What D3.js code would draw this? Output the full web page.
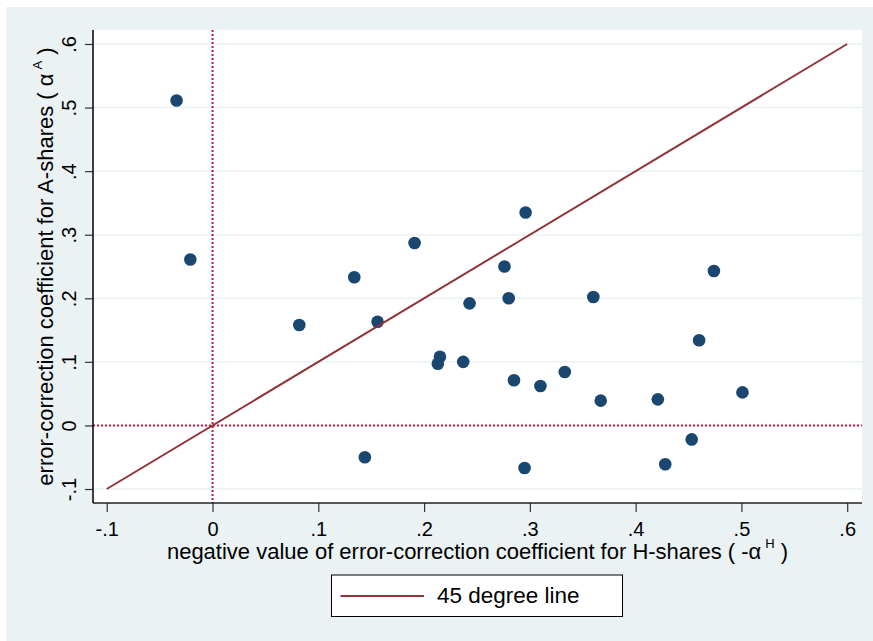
<!DOCTYPE html>
<html>
<head>
<meta charset="utf-8">
<script src="https://cdn.jsdelivr.net/npm/d3@7"></script>
<style>
  body { margin: 0; background: #fff; }
  svg { font-family: "Liberation Sans", Arial, sans-serif; }
</style>
</head>
<body>
<div id="chart"></div>
<script>
// frame
const FRAME_WIDTH = 873;
const FRAME_HEIGHT = 641;
const PLOT = {left: 93, right: 862, top: 30, bottom: 503};

// data: one point per firm pair
const NEG_ALPHA_H = [-0.034, -0.021, 0.134, 0.082, 0.156, 0.243, 0.215, 0.213, 0.237, 0.144,
                     0.191, 0.296, 0.276, 0.280, 0.360, 0.474, 0.460, 0.285, 0.310, 0.333,
                     0.367, 0.421, 0.501, 0.453, 0.428, 0.295];
const ALPHA_A = [0.511, 0.261, 0.233, 0.158, 0.163, 0.192, 0.108, 0.097, 0.100, -0.050,
                 0.287, 0.335, 0.250, 0.200, 0.202, 0.243, 0.134, 0.071, 0.062, 0.084,
                 0.039, 0.041, 0.052, -0.022, -0.061, -0.067];
const X_TICKS = [-0.1, 0, 0.1, 0.2, 0.3, 0.4, 0.5, 0.6];
const Y_TICKS = [-0.1, 0, 0.1, 0.2, 0.3, 0.4, 0.5, 0.6];
const LINE_45 = [-0.1, 0.6];
const LEGEND_LABEL = "45 degree line";

const FRAME = d3.select("#chart")
                .append("svg")
                  .attr("width", FRAME_WIDTH)
                  .attr("height", FRAME_HEIGHT);

// background
FRAME.append("rect")
       .attr("x", 6).attr("y", 7)
       .attr("width", FRAME_WIDTH - 6).attr("height", FRAME_HEIGHT - 7)
       .attr("fill", "#eaf2f3");

FRAME.append("rect")
       .attr("x", PLOT.left).attr("y", PLOT.top)
       .attr("width", PLOT.right - PLOT.left).attr("height", PLOT.bottom - PLOT.top)
       .attr("fill", "#fff");

// scales
const X_SCALE = d3.scaleLinear().domain([-0.113, 0.614]).range([PLOT.left, PLOT.right]);
const Y_SCALE = d3.scaleLinear().domain([-0.122, 0.622]).range([PLOT.bottom, PLOT.top]);

// stata-ish labels: .1 instead of 0.1, plain hyphen for minus
const fmt = (v) => {
  if (Math.abs(v) < 1e-9) return "0";
  const s = Math.abs(v).toFixed(1).replace(/^0\./, ".");
  return (v < 0 ? "-" : "") + s;
};

// gridlines
FRAME.append("g")
       .selectAll("line")
       .data(Y_TICKS)
       .enter()
       .append("line")
         .attr("x1", PLOT.left).attr("x2", PLOT.right)
         .attr("y1", (d) => Y_SCALE(d)).attr("y2", (d) => Y_SCALE(d))
         .attr("stroke", "#eaf2f3")
         .attr("stroke-width", 1.5);

// reference lines at zero
FRAME.append("line")
       .attr("x1", X_SCALE(0)).attr("x2", X_SCALE(0))
       .attr("y1", PLOT.top).attr("y2", PLOT.bottom)
       .attr("stroke", "#d3103d").attr("stroke-width", 2)
       .attr("stroke-dasharray", "2,2");
FRAME.append("line")
       .attr("x1", PLOT.left).attr("x2", PLOT.right)
       .attr("y1", Y_SCALE(0)).attr("y2", Y_SCALE(0))
       .attr("stroke", "#d3103d").attr("stroke-width", 2)
       .attr("stroke-dasharray", "2,2");

// points
FRAME.append("g")
       .selectAll("circle")
       .data(NEG_ALPHA_H)
       .enter()
       .append("circle")
         .attr("cx", (d) => X_SCALE(d))
         .attr("cy", (d, i) => Y_SCALE(ALPHA_A[i]))
         .attr("r", 6.3)
         .attr("fill", "#1a476f");

// 45 degree line
FRAME.append("line")
       .attr("x1", X_SCALE(LINE_45[0])).attr("y1", Y_SCALE(LINE_45[0]))
       .attr("x2", X_SCALE(LINE_45[1])).attr("y2", Y_SCALE(LINE_45[1]))
       .attr("stroke", "#93343b").attr("stroke-width", 2);

// x-axis
const xAxis = FRAME.append("g")
                     .attr("transform", "translate(0," + PLOT.bottom + ")")
                     .call(d3.axisBottom(X_SCALE).tickValues(X_TICKS).tickFormat(fmt).tickSize(9).tickSizeOuter(0));
xAxis.select(".domain").remove();
xAxis.selectAll(".tick line").attr("stroke", "#333").attr("stroke-width", 1.2);
xAxis.selectAll(".tick text")
       .attr("y", 33).attr("dy", 0)
       .attr("font-size", "20px").attr("fill", "#000")
       .attr("font-family", "Liberation Sans, Arial, sans-serif");

// y-axis
const yAxis = FRAME.append("g")
                     .attr("transform", "translate(" + PLOT.left + ",0)")
                     .call(d3.axisLeft(Y_SCALE).tickValues(Y_TICKS).tickFormat(fmt).tickSize(8).tickSizeOuter(0));
yAxis.select(".domain").remove();
yAxis.selectAll(".tick line").attr("stroke", "#333").attr("stroke-width", 1.2);
yAxis.selectAll(".tick text")
       .attr("x", 0).attr("y", -17).attr("dy", 0)
       .attr("transform", "rotate(-90)")
       .attr("text-anchor", "middle")
       .attr("font-size", "20px").attr("fill", "#000")
       .attr("font-family", "Liberation Sans, Arial, sans-serif");

// axis lines
FRAME.append("line")
       .attr("x1", PLOT.left).attr("x2", PLOT.left)
       .attr("y1", PLOT.top).attr("y2", PLOT.bottom)
       .attr("stroke", "#000").attr("stroke-width", 1.5);
FRAME.append("line")
       .attr("x1", PLOT.left).attr("x2", PLOT.right)
       .attr("y1", PLOT.bottom).attr("y2", PLOT.bottom)
       .attr("stroke", "#222").attr("stroke-width", 1.5);

// axis titles
const xTitle = FRAME.append("text")
                      .attr("x", (PLOT.left + PLOT.right) / 2).attr("y", 559)
                      .attr("text-anchor", "middle")
                      .attr("font-size", "22px");
xTitle.append("tspan").text("negative value of error-correction coefficient for H-shares ( -\u03b1");
xTitle.append("tspan").attr("font-size", "13px").attr("dy", -11).attr("dx", 4).text("H");
xTitle.append("tspan").attr("dy", 11).text(" )");

const yTitle = FRAME.append("text")
                      .attr("transform", "translate(53," + (PLOT.top + PLOT.bottom) / 2 + ") rotate(-90)")
                      .attr("text-anchor", "middle")
                      .attr("font-size", "22px");
yTitle.append("tspan").text("error-correction coefficient for A-shares ( \u03b1");
yTitle.append("tspan").attr("font-size", "13px").attr("dy", -11).attr("dx", 4).text("A");
yTitle.append("tspan").attr("dy", 11).text(" )");

// legend
FRAME.append("rect")
       .attr("x", 331.5).attr("y", 575)
       .attr("width", 291).attr("height", 41.5)
       .attr("fill", "#fff").attr("stroke", "#000").attr("stroke-width", 1);
FRAME.append("line")
       .attr("x1", 340.5).attr("x2", 424)
       .attr("y1", 596).attr("y2", 596)
       .attr("stroke", "#93343b").attr("stroke-width", 2);
FRAME.append("text")
       .attr("x", 437).attr("y", 603)
       .attr("font-size", "22.5px")
       .text(LEGEND_LABEL);
</script>
</body>
</html>
